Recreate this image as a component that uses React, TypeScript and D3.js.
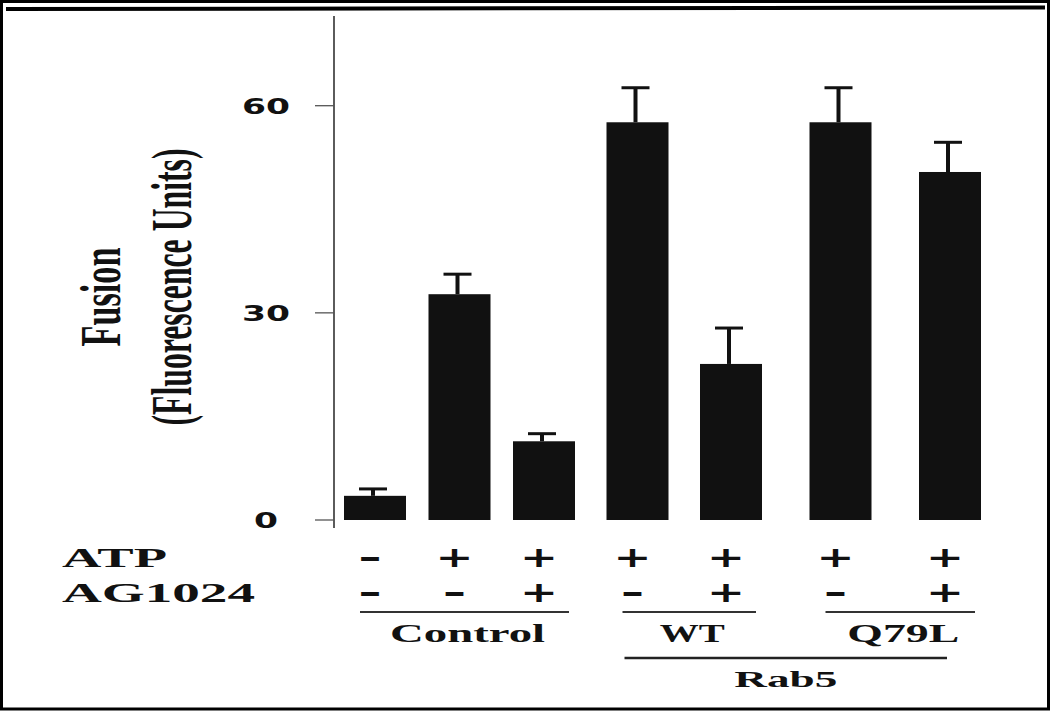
import React from "react";
import * as d3 from "d3";

// ---- data ----
const atpSigns = ["-", "+", "+", "+", "+", "+", "+"];
const ag1024Signs = ["-", "-", "+", "-", "+", "-", "+"];
const fusionValues = [3.5, 32.7, 11.4, 57.6, 22.6, 57.6, 50.4];
const fusionErrors = [1.0, 2.9, 1.1, 5.0, 5.2, 5.0, 4.3];
const yTickValues = [0, 30, 60];
const groupLabels = ["Control", "WT", "Q79L"];
const groupStarts = [0, 3, 5];
const groupEnds = [2, 4, 6];
const groupLabelLengths = [155, 65, 112];
const superGroupLabel = "Rab5";
const superGroupStart = 3;
const superGroupEnd = 6;
const yLabelLine1 = "Fusion";
const yLabelLine2 = "(Fluorescence Units)";
const rowLabels = ["ATP", "AG1024"];

const W = 1050;
const H = 711;

export default function App() {
  const idx = fusionValues.map((_, i) => i);
  const x = d3.scaleLinear().domain([0, 2, 4, 6]).range([375, 544, 731, 950]);
  const y = d3.scaleLinear().domain([0, 60]).range([520, 105.7]);
  const barW = 62;
  const axisX = 334;
  const serif = "'Liberation Serif', 'Times New Roman', serif";
  const sans = "'DejaVu Sans', Verdana, sans-serif";
  const ink = "#111";

  const signText = (s: string, cx: number, baseY: number, key: string) => (
    <text
      key={key}
      x={cx}
      y={baseY}
      textAnchor="middle"
      fontFamily={sans}
      fontWeight="bold"
      fontSize={28}
      fill={ink}
      textLength={s === "+" ? 38 : 24}
      lengthAdjust="spacingAndGlyphs"
    >
      {s}
    </text>
  );

  return (
    <svg
      width={W}
      height={H}
      viewBox={`0 0 ${W} ${H}`}
      style={{ position: "fixed", left: 0, top: 0, background: "#fff" }}
    >
      <rect x={0} y={0} width={W} height={H} fill="#fff" />
      {/* frame */}
      <rect x={1.5} y={1.5} width={W - 3} height={H - 3.5} fill="none" stroke="#000" strokeWidth={3} />
      <line x1={6} y1={9} x2={1045} y2={7.5} stroke="#000" strokeWidth={4} />

      {/* y axis */}
      <line x1={axisX} y1={16} x2={axisX} y2={528} stroke="#333" strokeWidth={1.6} />
      {yTickValues.map((t) => (
        <g key={t}>
          <line x1={315} x2={axisX} y1={y(t)} y2={y(t)} stroke="#555" strokeWidth={1.3} />
          <text
            x={266}
            y={y(t) + 8}
            textAnchor="middle"
            fontFamily={sans}
            fontWeight="bold"
            fontSize={22}
            fill={ink}
            textLength={24 * String(t).length}
            lengthAdjust="spacingAndGlyphs"
          >
            {t}
          </text>
        </g>
      ))}

      {/* y label */}
      <text
        transform="translate(120,297) rotate(-90)"
        textAnchor="middle"
        fontFamily={serif}
        fontWeight="bold"
        fontSize={58}
        fill={ink}
        textLength={99}
        lengthAdjust="spacingAndGlyphs"
      >
        {yLabelLine1}
      </text>
      <text
        transform="translate(191,287) rotate(-90)"
        textAnchor="middle"
        fontFamily={serif}
        fontWeight="bold"
        fontSize={58}
        fill={ink}
        textLength={277}
        lengthAdjust="spacingAndGlyphs"
      >
        {yLabelLine2}
      </text>

      {/* bars */}
      {idx.map((i) => (
        <rect
          key={"b" + i}
          x={x(i) - barW / 2}
          y={y(fusionValues[i])}
          width={barW}
          height={y(0) - y(fusionValues[i])}
          fill={ink}
        />
      ))}
      {/* error bars */}
      {idx.map((i) => {
        const top = y(fusionValues[i] + fusionErrors[i]);
        return (
          <g key={"e" + i}>
            <line x1={x(i) - 2} x2={x(i) - 2} y1={y(fusionValues[i])} y2={top} stroke={ink} strokeWidth={4} />
            <line x1={x(i) - 16} x2={x(i) + 12} y1={top} y2={top} stroke={ink} strokeWidth={3} />
          </g>
        );
      })}

      {/* row labels */}
      {rowLabels.map((r, k) => (
        <text
          key={r}
          x={62}
          y={567 + 35 * k}
          fontFamily={serif}
          fontWeight="bold"
          fontSize={28}
          fill={ink}
          textLength={k === 0 ? 105 : 193}
          lengthAdjust="spacingAndGlyphs"
        >
          {r}
        </text>
      ))}
      {idx.map((i) => signText(atpSigns[i], x(i) - 5, 567, "a" + i))}
      {idx.map((i) => signText(ag1024Signs[i], x(i) - 5, 602, "g" + i))}

      {/* group lines */}
      {groupLabels.map((g, k) => {
        const x1 = x(groupStarts[k]) - 15;
        const x2 = x(groupEnds[k]) + 25;
        return (
          <g key={g}>
            <line x1={x1} x2={x2} y1={612} y2={612} stroke="#333" strokeWidth={2} />
            <text
              x={(x1 + x2) / 2 + 3}
              y={642}
              textAnchor="middle"
              fontFamily={serif}
              fontWeight="bold"
              fontSize={25}
              fill={ink}
              textLength={groupLabelLengths[k]}
              lengthAdjust="spacingAndGlyphs"
            >
              {g}
            </text>
          </g>
        );
      })}
      {(() => {
        const x1 = x(superGroupStart) - 13;
        const x2 = x(superGroupEnd) - 3;
        return (
          <g>
            <line x1={x1} x2={x2} y1={658} y2={658} stroke="#222" strokeWidth={2.5} />
            <text
              x={(x1 + x2) / 2}
              y={687}
              textAnchor="middle"
              fontFamily={serif}
              fontWeight="bold"
              fontSize={23}
              fill={ink}
              textLength={103}
              lengthAdjust="spacingAndGlyphs"
            >
              {superGroupLabel}
            </text>
          </g>
        );
      })()}
    </svg>
  );
}
